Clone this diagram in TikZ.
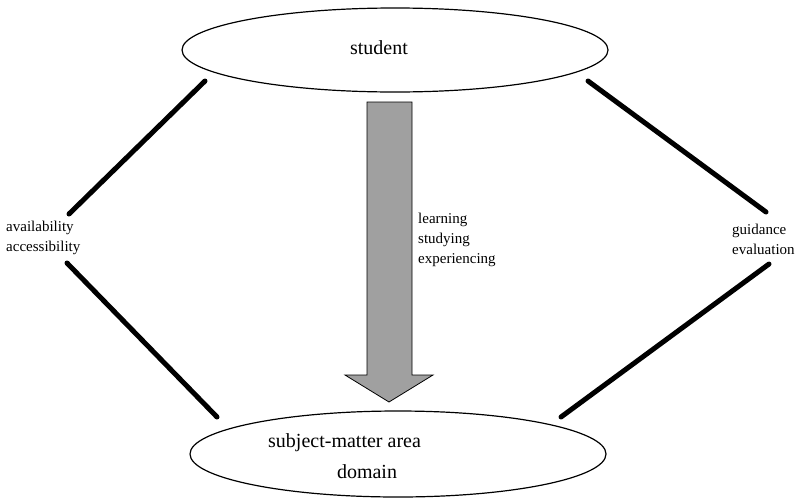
\documentclass[tikz,border=0pt]{standalone}
\usepackage{fontspec}
\setmainfont{Liberation Serif}
\usetikzlibrary{shapes.geometric}
\begin{document}
\begin{tikzpicture}[x=1pt,y=-1pt,
  oval/.style={draw, line width=1.2pt, ellipse, inner sep=0pt},
  bigtxt/.style={font=\fontsize{20}{24}\selectfont, inner sep=0pt},
  smalltxt/.style={font=\fontsize{15}{20}\selectfont, inner sep=0pt, anchor=west, align=left},
  link/.style={line width=5pt, line cap=round}]
\useasboundingbox (0,0) rectangle (799,498);
\node[oval, minimum width=426pt, minimum height=84pt] (student) at (395,50) {};
\node[bigtxt] (studtxt) at (379,48) {student};
\node[oval, minimum width=416pt, minimum height=86pt] (domain) at (398,454) {};
\node[bigtxt, anchor=west] (subj) at (268,443) {subject-matter area};
\node[bigtxt] (dom) at (367,472) {domain};
% arrow
\coordinate (a1) at (367,102);
\coordinate (a2) at (412,102);
\coordinate (a3) at (412,375);
\coordinate (a4) at (433,375);
\coordinate (tip) at (389,402);
\coordinate (a6) at (345,375);
\coordinate (a7) at (367,375);
\draw[fill={rgb,255:red,160;green,160;blue,160}, line width=0.8pt, line join=miter]
  (a1) -- (a2) -- (a3) -- (a4) -- (tip) -- (a6) -- (a7) -- cycle;
\node[smalltxt] (verbs) at (418,240) {learning\\studying\\experiencing};
\node[smalltxt] (leftlbl) at (6,238) {availability\\accessibility};
\node[smalltxt] (rightlbl) at (732,239) {guidance\\evaluation};
% lines
\coordinate (l1a) at (205,81);
\coordinate (l1b) at (69,214);
\coordinate (l2a) at (67,263);
\coordinate (l2b) at (217,417);
\coordinate (r1a) at (588,81);
\coordinate (r1b) at (766,212);
\coordinate (r2a) at (769,264);
\coordinate (r2b) at (561,417);
\draw[link] (l1a) -- (l1b);
\draw[link] (l2a) -- (l2b);
\draw[link] (r1a) -- (r1b);
\draw[link] (r2a) -- (r2b);
\end{tikzpicture}
\end{document}
